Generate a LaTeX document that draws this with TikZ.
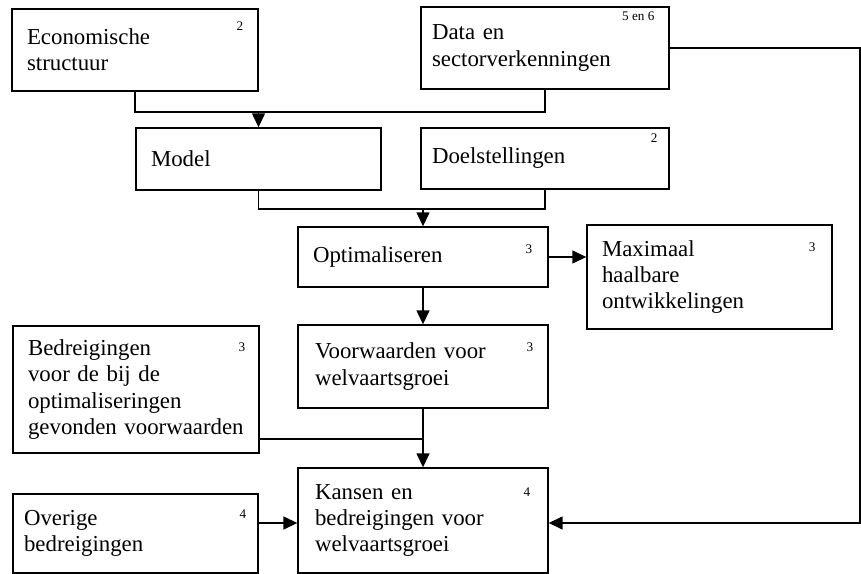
\documentclass[tikz,border=0pt]{standalone}
\usepackage{fontspec}
\setmainfont{Liberation Serif}
\usetikzlibrary{arrows.meta}
\tikzset{
	box/.style={draw, line width=0.8pt, align=left, inner xsep=0.3cm, inner ysep=0pt, font=\fontsize{13}{15}\selectfont},
	num/.style={anchor=north east, inner sep=0pt, font=\fontsize{7.5}{9}\selectfont},
	line/.style={line width=0.8pt},
	arr/.style={line width=0.8pt, -{Triangle[length=0.28cm, width=0.26cm]}},
}

\begin{document}
\begin{tikzpicture}[x=0.02cm, y=-0.02cm]
	\useasboundingbox (0,0) rectangle (861,574);
	\node[box, text width=4.32cm, minimum height=1.64cm] (eco) at (135,50) {Economische\\structuur};
	\node[box, inner xsep=0.22cm, text width=4.52cm, minimum height=1.64cm] (data) at (545,48) {Data en\\sectorverkenningen};
	\node[box, text width=4.3cm, minimum height=1.24cm] (model) at (258.5,159) {Model};
	\node[box, inner xsep=0.22cm, text width=4.52cm, minimum height=1.22cm] (doel) at (545,158.5) {Doelstellingen};
	\node[box, text width=4.4cm, minimum height=1.2cm] (opt) at (423,257) {Optimaliseren};
	\node[box, text width=4.3cm, minimum height=2.08cm] (max) at (709.5,277) {Maximaal\\haalbare\\ontwikkelingen};
	\node[box, inner xsep=0.34cm, text width=4.32cm, minimum height=1.66cm] (voor) at (423,366.5) {Voorwaarden voor\\welvaartsgroei};
	\node[box, inner xsep=0.3cm, text width=4.32cm, minimum height=2.54cm] (bedr) at (136,389.5) {Bedreigingen\\voor de bij de\\optimaliseringen\\\mbox{gevonden voorwaarden}};
	\node[box, inner xsep=0.34cm, text width=4.32cm, minimum height=2.1cm] (kans) at (423,520.5) {Kansen en\\bedreigingen voor\\welvaartsgroei};
	\node[box, inner xsep=0.22cm, text width=4.46cm, minimum height=1.58cm] (over) at (135.5,533.5) {Overige\\bedreigingen};

	\node[num] (n1) at ([shift={(-15,13)}]eco.north east) {2};
	\node[num] (n2) at ([shift={(-15,5)}]data.north east) {5 en 6};
	\node[num] (n3) at ([shift={(-12,6)}]doel.north east) {2};
	\node[num] (n4) at ([shift={(-16,18)}]opt.north east) {3};
	\node[num] (n5) at ([shift={(-17,18)}]max.north east) {3};
	\node[num] (n6) at ([shift={(-15,18)}]voor.north east) {3};
	\node[num] (n7) at ([shift={(-14,17)}]bedr.north east) {3};
	\node[num] (n8) at ([shift={(-18,20)}]kans.north east) {4};
	\node[num] (n9) at ([shift={(-12,16)}]over.north east) {4};

	\coordinate (j1) at (259,112);
	\coordinate (j2) at (423,209);
	\coordinate (j3) at (423,439);
	\coordinate (j4) at (0,523);
	\coordinate (rt) at (860,48);
	\draw[line] (eco.south) |- (data.south |- j1) -- (data.south);
	\draw[arr] (model.north |- j1) -- (model.north);
	\draw[line] (model.south) |- (doel.south |- j2) -- (doel.south);
	\draw[arr] (opt.north |- j2) -- (opt.north);
	\draw[arr] (opt.east) -- (opt.east -| max.west);
	\draw[arr] (opt.south) -- (voor.north);
	\draw[arr] (voor.south) -- (kans.north);
	\draw[line] (bedr.east |- j3) -- (voor.south |- j3);
	\draw[arr] (over.east |- j4) -- (kans.west |- j4);
	\draw[arr] (data.east) -- (rt) |- (kans.east |- j4);
\end{tikzpicture}
\end{document}
